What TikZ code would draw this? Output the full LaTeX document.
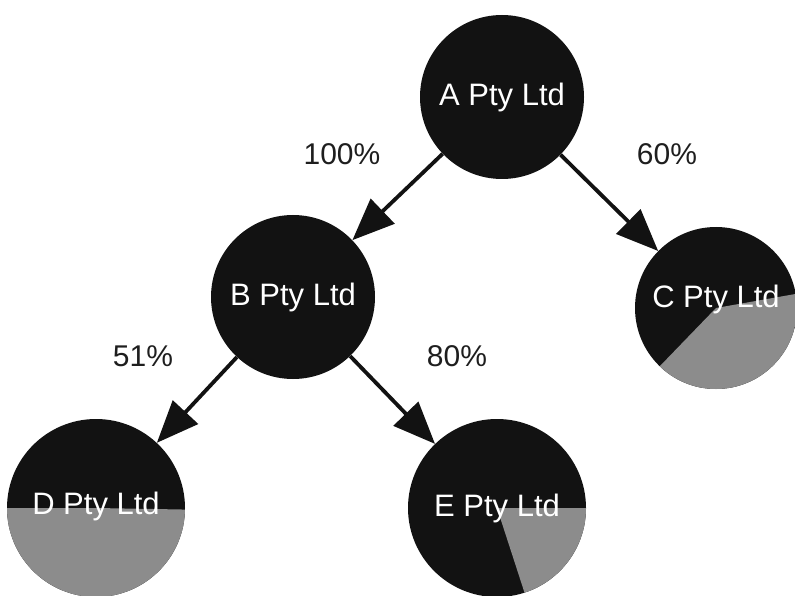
\documentclass[tikz,border=0pt]{standalone}
\usepackage{fontspec}
\setmainfont{Liberation Sans}
\usetikzlibrary{arrows.meta}
\definecolor{ink}{RGB}{18,18,18}
\definecolor{share}{RGB}{140,140,140}
\definecolor{label}{RGB}{30,30,30}
\tikzset{
  firm/.style={circle, fill=ink, draw=none, inner sep=0pt, minimum size=#1},
  firmname/.style={text=white, font=\fontsize{31}{33}\selectfont},
  part/.style 2 args={path picture={
    \fill[share] (path picture bounding box.center) -- ++(#1:120pt)
      arc[start angle=#1, end angle=#2, radius=120pt] -- cycle;}},
  own/.style={draw=ink, line width=3.8pt,
    -{Triangle[length=42pt,width=34pt]}},
  pct/.style={text=label, font=\fontsize{30}{32}\selectfont},
}
\begin{document}
\begin{tikzpicture}[x=1pt,y=-1pt]
\useasboundingbox (0,0) rectangle (795,596);
% companies, with the non-owned share drawn as a grey sector
\node[firm=164pt, label={[firmname]center:A Pty Ltd}] (A) at (502,97) {};
\node[firm=164pt, label={[firmname]center:B Pty Ltd}] (B) at (293,297) {};
\node[firm=162pt, part={-134}{10},
      label={[firmname, yshift=9pt]center:C Pty Ltd}] (C) at (716,308) {};
\node[firm=178pt, part={180}{359},
      label={[firmname, yshift=2pt]center:D Pty Ltd}] (D) at (96,508) {};
\node[firm=178pt, part={-72}{0},
      label={[firmname]center:E Pty Ltd}] (E) at (497,508) {};
% ownership links
\draw[own] (A) -- (B);
\draw[own] (A) -- (C);
\draw[own] (B) -- (D);
\draw[own] (B) -- (E);
% ownership shares
\node[pct] (lab) at (342,154) {100\%};
\node[pct] (lac) at (667,154) {60\%};
\node[pct] (lbd) at (143,356) {51\%};
\node[pct] (lbe) at (457,356) {80\%};
\end{tikzpicture}
\end{document}
